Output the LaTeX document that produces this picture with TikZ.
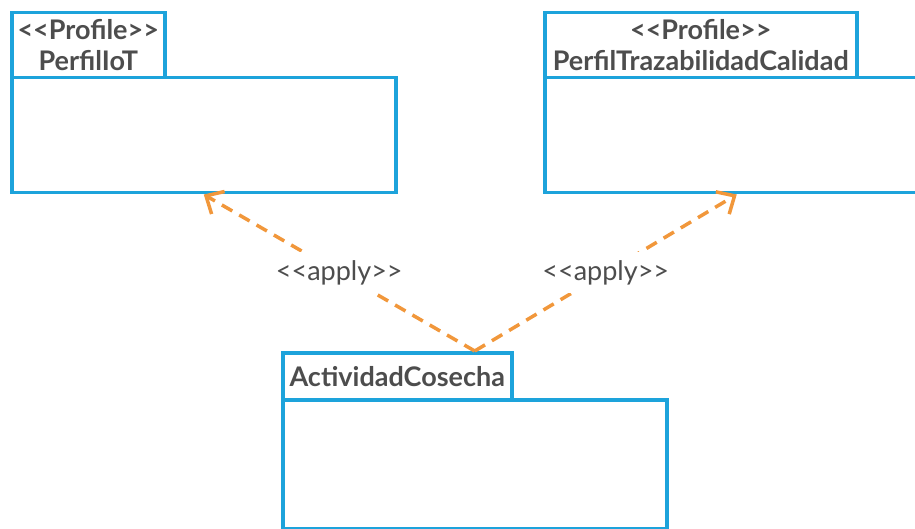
\documentclass[tikz,border=0pt]{standalone}
\usepackage{fontspec}
\setmainfont{Lato}
\usetikzlibrary{arrows.meta}
\definecolor{pkgblue}{RGB}{29,163,219}
\definecolor{applyorange}{RGB}{241,151,59}
\definecolor{txtgray}{RGB}{77,77,77}
\tikzset{% 
    pkgtab/.style={draw=pkgblue,line width=3.5pt,anchor=north west,inner sep=0pt,align=center,text=txtgray,
        font=\bfseries\fontsize{27}{31}\selectfont},
    pkgbody/.style={draw=pkgblue,line width=3.5pt,anchor=north west,inner sep=0pt,minimum width=384pt}
}

\begin{document}
\begin{tikzpicture}[
                x=1pt,y=-1pt,
                apply/.style={draw=applyorange,line width=3.5pt,dash pattern=on 12pt off 8pt,
                    -{Straight Barb[length=14pt,width=26pt]}},
                stlbl/.style={fill=white,text=txtgray,inner xsep=2pt,inner ysep=8pt,
                    font=\fontsize{27}{30}\selectfont}
            ]
            \useasboundingbox (0,0) rectangle (915,529);
            \node[pkgtab,minimum width=153pt,minimum height=65pt] (iotTab) at (10,11){<{}<Profile>{}>\\PerfilIoT};
            \node[pkgbody,minimum height=115pt] (iotBody) at (10,76){};
            \node[pkgtab,minimum width=312pt,minimum height=65pt] (trzTab) at (543,11){<{}<Profile>{}>\\PerfilTrazabilidadCalidad};
            \node[pkgbody,minimum height=115pt] (trzBody) at (543,76){};
            \node[pkgtab,minimum width=229pt,minimum height=47pt] (actTab) at (281,351){ActividadCosecha};
            \node[pkgbody,minimum height=129pt] (actBody) at (281,398){};

            \draw[apply] (actTab.north -| actBody.center) -- node[stlbl]{<{}<apply>{}>}(iotBody.south);
            \draw[apply] (actTab.north -| actBody.center) -- node[stlbl]{<{}<apply>{}>}(trzBody.south);
        \end{tikzpicture}
\end{document}
